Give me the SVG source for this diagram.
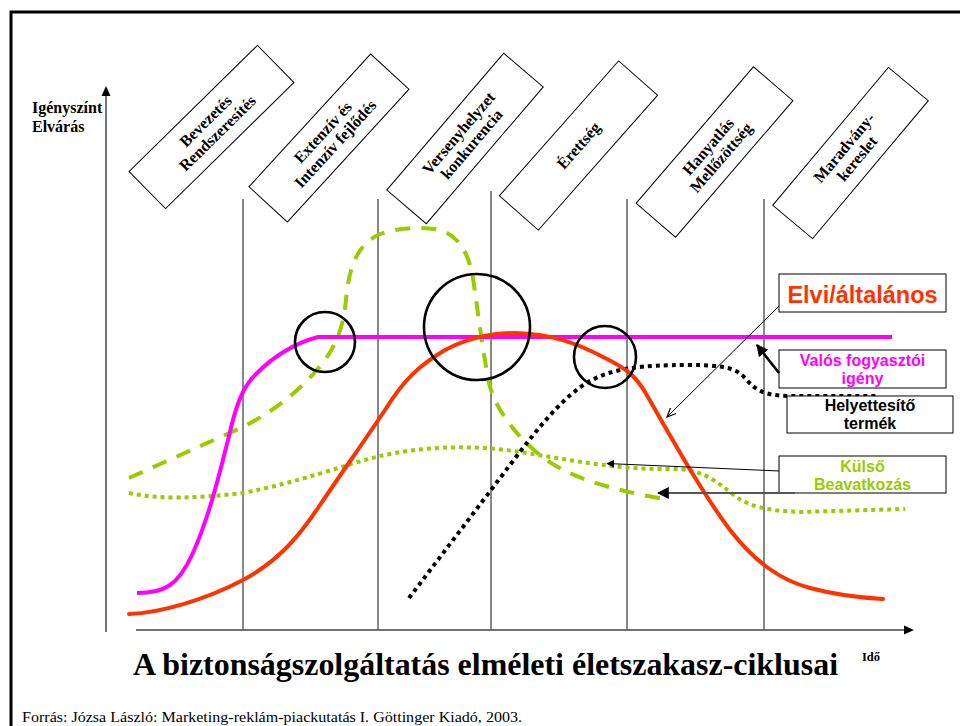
<svg xmlns="http://www.w3.org/2000/svg" width="960" height="726" viewBox="0 0 960 726">
<defs>
<style>
.frame{fill:none;stroke:#000;stroke-width:3}
.grid{stroke:#555;stroke-width:1.4;fill:none}
.axis{stroke:#444;stroke-width:1.5;fill:none}
.box{fill:#fff;stroke:#000;stroke-width:1}
.phase{font-family:"Liberation Serif","Times New Roman",serif;font-weight:bold;font-size:16px;text-anchor:middle;fill:#000}
.serif{font-family:"Liberation Serif","Times New Roman",serif;fill:#000}
.leg{font-family:"Liberation Sans",Arial,sans-serif;font-weight:bold;text-anchor:middle}
.ring{fill:none;stroke:#000;stroke-width:2.6}
.c-red{fill:none;stroke:#FF3300;stroke-width:4;stroke-linecap:round}
.c-mag{fill:none;stroke:#FF00FF;stroke-width:4}
.c-dash{fill:none;stroke:#99CC00;stroke-width:4;stroke-dasharray:15 11}
.c-dot{fill:none;stroke:#99CC00;stroke-width:4;stroke-dasharray:4 4}
.c-blk{fill:none;stroke:#000;stroke-width:4;stroke-dasharray:4 4}
</style>
<marker id="ahFill" viewBox="0 0 10 10" refX="9" refY="5" markerWidth="8" markerHeight="8" markerUnits="userSpaceOnUse" orient="auto"><path d="M0,0 L10,5 L0,10 z" fill="#000"/></marker>
<marker id="ahOpen" viewBox="0 0 10 10" refX="9" refY="5" markerWidth="10" markerHeight="10" markerUnits="userSpaceOnUse" orient="auto"><path d="M0,1 L9,5 L0,9" fill="none" stroke="#000" stroke-width="1.2"/></marker>
<marker id="ahBig" viewBox="0 0 10 10" refX="9" refY="5" markerWidth="12" markerHeight="12" markerUnits="userSpaceOnUse" orient="auto"><path d="M0,0 L10,5 L0,10 z" fill="#000"/></marker>
</defs>
<rect width="960" height="726" fill="#fff"/>
<path class="frame" d="M11,726 V12 H960"/>

<g id="axes">
<line class="axis" x1="106" y1="632" x2="106" y2="94"/>
<path d="M106,86 L101.5,96 L110.5,96 z" fill="#000"/>
<line class="axis" x1="136" y1="630" x2="905" y2="630"/>
<path d="M914,630 L904,625.5 L904,634.5 z" fill="#000"/>
</g>

<g id="grid">
<line class="grid" x1="243" y1="199" x2="243" y2="630"/>
<line class="grid" x1="378" y1="199" x2="378" y2="630"/>
<line class="grid" x1="491" y1="191" x2="491" y2="630"/>
<line class="grid" x1="627" y1="199" x2="627" y2="630"/>
<line class="grid" x1="764" y1="199" x2="764" y2="630"/>
</g>

<g id="curves">
<path id="curve-kulso-dotted" class="c-dot" d="M129,493 C160,500 200,498 243,493 C300,482 340,466 380,456 C420,447 470,444 520,452 C570,460 620,470 670,469 C700,468 715,480 735,496 C750,507 770,511 800,512 L905,509"/>
<path id="curve-kulso-dashed" class="c-dash" d="M129,478 L243,427 C270,413 295,395 315,372 C335,350 343,330 346,300 C349,265 358,245 378,235 C395,228 420,226 440,230 C460,236 470,255 474,285 C479,320 484,360 490,387 C497,410 515,435 540,455 C565,475 600,488 670,500"/>
<path id="curve-helyettesito" class="c-blk" d="M409,598 L510,465 C540,425 565,395 590,381 C615,368 640,365 690,365 C720,365 735,367 745,378 C755,390 765,396 790,396 L877,396"/>
<path id="curve-valos" class="c-mag" d="M137,593 C165,593 178,585 192,555 C208,520 218,480 228,440 C236,405 242,388 256,374 C272,358 292,344 318,337 L892,337"/>
<path id="curve-elvi" class="c-red" d="M129,614 C160,613 205,600 243,580 C280,560 300,535 320,505 C345,468 365,440 385,410 C405,378 420,365 445,350 C470,337 495,333 515,333 C550,334 575,342 605,358 C625,368 635,375 645,392 C670,435 700,490 730,530 C755,562 780,580 810,588 C840,596 865,598 883,599"/>
</g>

<g id="rings">
<circle id="ring1" class="ring" cx="325" cy="342" r="30"/>
<circle id="ring2" class="ring" cx="477" cy="327" r="53"/>
<circle id="ring3" class="ring" cx="605" cy="357" r="31"/>
</g>

<g id="phase1" transform="translate(211.5,127) rotate(-44.5)"><rect class="box" x="-90" y="-26" width="180" height="52"/><text class="phase"><tspan x="0" y="-3">Bevezetés</tspan><tspan x="0" y="14">Rendszeresítés</tspan></text></g>
<g id="phase2" transform="translate(329,138) rotate(-47.5)"><rect class="box" x="-90" y="-26" width="180" height="52"/><text class="phase"><tspan x="0" y="-3">Extenzív és</tspan><tspan x="0" y="14">Intenzív fejlődés</tspan></text></g>
<g id="phase3" transform="translate(465,138.5) rotate(-49.5)"><rect class="box" x="-90" y="-26" width="180" height="52"/><text class="phase"><tspan x="0" y="-3">Versenyhelyzet</tspan><tspan x="0" y="14">konkurencia</tspan></text></g>
<g id="phase4" transform="translate(578.5,145.5) rotate(-48.5)"><rect class="box" x="-90" y="-26" width="180" height="52"/><text class="phase" x="0" y="5.5">Érettség</text></g>
<g id="phase5" transform="translate(714.5,152) rotate(-49.3)"><rect class="box" x="-90" y="-26" width="180" height="52"/><text class="phase"><tspan x="0" y="-3">Hanyatlás</tspan><tspan x="0" y="14">Mellőzöttség</tspan></text></g>
<g id="phase6" transform="translate(850.5,153) rotate(-50)"><rect class="box" x="-90" y="-26" width="180" height="52"/><text class="phase"><tspan x="0" y="-3">Maradvány-</tspan><tspan x="0" y="14">kereslet</tspan></text></g>

<g id="legend-elvi"><rect class="box" x="779" y="274" width="167" height="38"/><text class="leg" x="862.5" y="303" font-size="23.5" fill="#FF3300">Elvi/általános</text></g>
<g id="legend-valos"><rect class="box" x="779" y="350" width="167" height="38"/><text class="leg" font-size="16" fill="#FF00FF"><tspan x="862.5" y="366">Valós fogyasztói</tspan><tspan x="862.5" y="384">igény</tspan></text></g>
<g id="legend-helyettesito"><rect class="box" x="787" y="396" width="166" height="37"/><text class="leg" font-size="16" fill="#000"><tspan x="870" y="411">Helyettesítő</tspan><tspan x="870" y="429">termék</tspan></text></g>
<g id="legend-kulso"><rect class="box" x="779" y="456" width="167" height="37"/><text class="leg" font-size="16" fill="#99CC00"><tspan x="862.5" y="472">Külső</tspan><tspan x="862.5" y="490">Beavatkozás</tspan></text></g>

<g id="connectors">
<line x1="779" y1="306" x2="667" y2="417" stroke="#000" stroke-width="1" marker-end="url(#ahOpen)"/>
<line x1="779" y1="373" x2="757" y2="345" stroke="#000" stroke-width="2.6" marker-end="url(#ahBig)"/>
<line x1="779" y1="471" x2="607" y2="463.5" stroke="#000" stroke-width="1" marker-end="url(#ahFill)"/>
<line x1="795" y1="493" x2="658" y2="493" stroke="#555" stroke-width="2" marker-end="url(#ahBig)"/>
</g>

<g id="labels">
<text class="serif" font-weight="bold" font-size="16"><tspan x="32" y="113">Igényszínt</tspan><tspan x="32" y="132">Elvárás</tspan></text>
<text class="serif" x="133" y="675" font-weight="bold" font-size="32" textLength="705" lengthAdjust="spacingAndGlyphs">A biztonságszolgáltatás elméleti életszakasz-ciklusai</text>
<text class="serif" x="862" y="661" font-weight="bold" font-size="12.5">Idő</text>
<text class="serif" x="22" y="722" font-size="15" textLength="500" lengthAdjust="spacingAndGlyphs">Forrás: Józsa László: Marketing-reklám-piackutatás I. Göttinger Kiadó, 2003.</text>
</g>
</svg>
